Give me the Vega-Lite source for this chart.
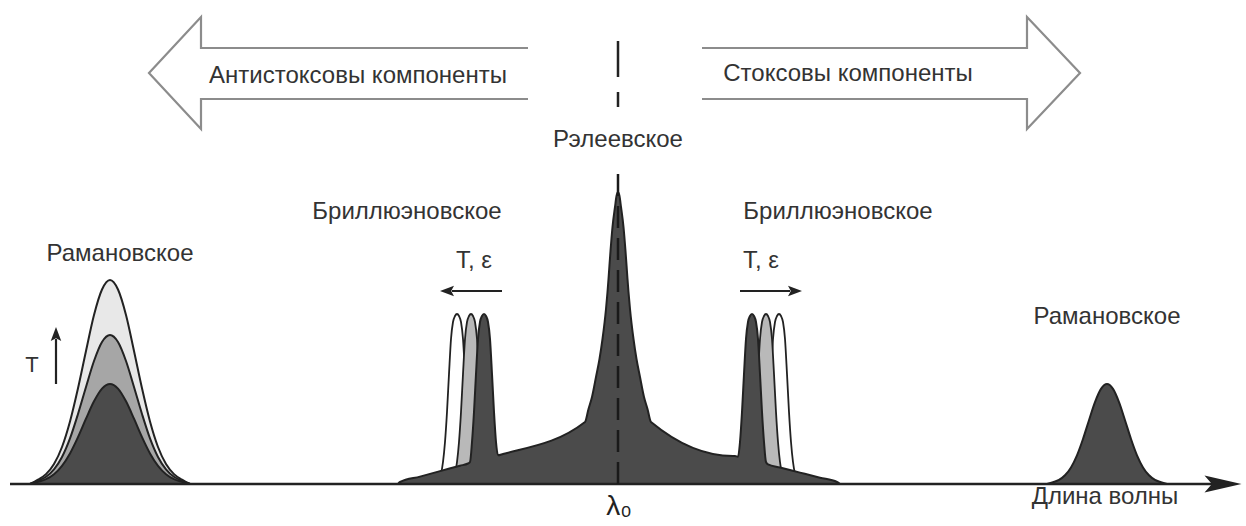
{
  "$schema": "https://vega.github.io/schema/vega-lite/v6.json",
  "width": 1246,
  "height": 526,
  "autosize": {"type": "fit", "contains": "padding"},
  "padding": 0,
  "background": "#ffffff",
  "config": {"view": {"stroke": null}},
  "datasets": {
    "arrows": [
      {"id": "L", "o": 1, "x": 528, "v": 436}, {"id": "L", "o": 2, "x": 201, "v": 436}, {"id": "L", "o": 3, "x": 201, "v": 467}, {"id": "L", "o": 4, "x": 149, "v": 411}, {"id": "L", "o": 5, "x": 201, "v": 355}, {"id": "L", "o": 6, "x": 201, "v": 385}, {"id": "L", "o": 7, "x": 528, "v": 385},
      {"id": "R", "o": 1, "x": 702, "v": 436}, {"id": "R", "o": 2, "x": 1027, "v": 436}, {"id": "R", "o": 3, "x": 1027, "v": 467}, {"id": "R", "o": 4, "x": 1080, "v": 411}, {"id": "R", "o": 5, "x": 1027, "v": 355}, {"id": "R", "o": 6, "x": 1027, "v": 385}, {"id": "R", "o": 7, "x": 702, "v": 385}
    ],
    "ramanOuter": [
      {"x": 30, "v": 0}, {"x": 38, "v": 4.4}, {"x": 46, "v": 9.9}, {"x": 54, "v": 20}, {"x": 62, "v": 37}, {"x": 70, "v": 62.5}, {"x": 78, "v": 95.7}, {"x": 86, "v": 133}, {"x": 94, "v": 169}, {"x": 102, "v": 194.5}, {"x": 110, "v": 204}, {"x": 118, "v": 194.5}, {"x": 126, "v": 169}, {"x": 134, "v": 133}, {"x": 142, "v": 95.7}, {"x": 150, "v": 62.5}, {"x": 158, "v": 37}, {"x": 166, "v": 20}, {"x": 174, "v": 9.9}, {"x": 182, "v": 4.4}, {"x": 190, "v": 0}
    ],
    "ramanMiddle": [
      {"x": 30, "v": 0}, {"x": 38, "v": 3.2}, {"x": 46, "v": 7.2}, {"x": 54, "v": 14.6}, {"x": 62, "v": 27}, {"x": 70, "v": 45.6}, {"x": 78, "v": 70}, {"x": 86, "v": 97}, {"x": 94, "v": 123}, {"x": 102, "v": 142}, {"x": 110, "v": 149}, {"x": 118, "v": 142}, {"x": 126, "v": 123}, {"x": 134, "v": 97}, {"x": 142, "v": 70}, {"x": 150, "v": 45.6}, {"x": 158, "v": 27}, {"x": 166, "v": 14.6}, {"x": 174, "v": 7.2}, {"x": 182, "v": 3.2}, {"x": 190, "v": 0}
    ],
    "ramanInner": [
      {"x": 30, "v": 0}, {"x": 38, "v": 2.2}, {"x": 46, "v": 4.8}, {"x": 54, "v": 9.8}, {"x": 62, "v": 18.2}, {"x": 70, "v": 30.6}, {"x": 78, "v": 46.9}, {"x": 86, "v": 65.3}, {"x": 94, "v": 82.7}, {"x": 102, "v": 95.4}, {"x": 110, "v": 100}, {"x": 118, "v": 95.4}, {"x": 126, "v": 82.7}, {"x": 134, "v": 65.3}, {"x": 142, "v": 46.9}, {"x": 150, "v": 30.6}, {"x": 158, "v": 18.2}, {"x": 166, "v": 9.8}, {"x": 174, "v": 4.8}, {"x": 182, "v": 2.2}, {"x": 190, "v": 0}
    ],
    "ramanRight": [
      {"x": 1047, "v": 0}, {"x": 1053, "v": 1.8}, {"x": 1059, "v": 4.1}, {"x": 1065, "v": 8.7}, {"x": 1071, "v": 16.6}, {"x": 1077, "v": 28.7}, {"x": 1083, "v": 45}, {"x": 1089, "v": 63.8}, {"x": 1095, "v": 81.9}, {"x": 1101, "v": 95.1}, {"x": 1107, "v": 100}, {"x": 1113, "v": 95.1}, {"x": 1119, "v": 81.9}, {"x": 1125, "v": 63.8}, {"x": 1131, "v": 45}, {"x": 1137, "v": 28.7}, {"x": 1143, "v": 16.6}, {"x": 1149, "v": 8.7}, {"x": 1155, "v": 4.1}, {"x": 1161, "v": 1.8}, {"x": 1167, "v": 0}
    ],
    "brilWhite": [
      {"g": "a", "x": 437, "v": 0}, {"g": "a", "x": 439, "v": 3}, {"g": "a", "x": 441, "v": 10}, {"g": "a", "x": 443, "v": 22}, {"g": "a", "x": 445, "v": 42}, {"g": "a", "x": 447, "v": 72}, {"g": "a", "x": 449, "v": 110}, {"g": "a", "x": 451, "v": 145}, {"g": "a", "x": 453, "v": 162}, {"g": "a", "x": 455, "v": 168}, {"g": "a", "x": 457, "v": 170}, {"g": "a", "x": 459, "v": 168}, {"g": "a", "x": 461, "v": 162}, {"g": "a", "x": 463, "v": 145}, {"g": "a", "x": 465, "v": 110}, {"g": "a", "x": 467, "v": 72}, {"g": "a", "x": 469, "v": 42}, {"g": "a", "x": 471, "v": 22}, {"g": "a", "x": 473, "v": 10}, {"g": "a", "x": 475, "v": 3}, {"g": "a", "x": 477, "v": 0},
      {"g": "b", "x": 759, "v": 0}, {"g": "b", "x": 761, "v": 3}, {"g": "b", "x": 763, "v": 10}, {"g": "b", "x": 765, "v": 22}, {"g": "b", "x": 767, "v": 42}, {"g": "b", "x": 769, "v": 72}, {"g": "b", "x": 771, "v": 110}, {"g": "b", "x": 773, "v": 145}, {"g": "b", "x": 775, "v": 162}, {"g": "b", "x": 777, "v": 168}, {"g": "b", "x": 779, "v": 170}, {"g": "b", "x": 781, "v": 168}, {"g": "b", "x": 783, "v": 162}, {"g": "b", "x": 785, "v": 145}, {"g": "b", "x": 787, "v": 110}, {"g": "b", "x": 789, "v": 72}, {"g": "b", "x": 791, "v": 42}, {"g": "b", "x": 793, "v": 22}, {"g": "b", "x": 795, "v": 10}, {"g": "b", "x": 797, "v": 3}, {"g": "b", "x": 799, "v": 0}
    ],
    "brilGray": [
      {"g": "a", "x": 451, "v": 0}, {"g": "a", "x": 453, "v": 3}, {"g": "a", "x": 455, "v": 10}, {"g": "a", "x": 457, "v": 22}, {"g": "a", "x": 459, "v": 42}, {"g": "a", "x": 461, "v": 72}, {"g": "a", "x": 463, "v": 110}, {"g": "a", "x": 465, "v": 145}, {"g": "a", "x": 467, "v": 162}, {"g": "a", "x": 469, "v": 168}, {"g": "a", "x": 471, "v": 170}, {"g": "a", "x": 473, "v": 168}, {"g": "a", "x": 475, "v": 162}, {"g": "a", "x": 477, "v": 145}, {"g": "a", "x": 479, "v": 110}, {"g": "a", "x": 481, "v": 72}, {"g": "a", "x": 483, "v": 42}, {"g": "a", "x": 485, "v": 22}, {"g": "a", "x": 487, "v": 10}, {"g": "a", "x": 489, "v": 3}, {"g": "a", "x": 491, "v": 0},
      {"g": "b", "x": 746, "v": 0}, {"g": "b", "x": 748, "v": 3}, {"g": "b", "x": 750, "v": 10}, {"g": "b", "x": 752, "v": 22}, {"g": "b", "x": 754, "v": 42}, {"g": "b", "x": 756, "v": 72}, {"g": "b", "x": 758, "v": 110}, {"g": "b", "x": 760, "v": 145}, {"g": "b", "x": 762, "v": 162}, {"g": "b", "x": 764, "v": 168}, {"g": "b", "x": 766, "v": 170}, {"g": "b", "x": 768, "v": 168}, {"g": "b", "x": 770, "v": 162}, {"g": "b", "x": 772, "v": 145}, {"g": "b", "x": 774, "v": 110}, {"g": "b", "x": 776, "v": 72}, {"g": "b", "x": 778, "v": 42}, {"g": "b", "x": 780, "v": 22}, {"g": "b", "x": 782, "v": 10}, {"g": "b", "x": 784, "v": 3}, {"g": "b", "x": 786, "v": 0}
    ],
    "main": [
      {"x": 398, "v": 0}, {"x": 400, "v": 2}, {"x": 420, "v": 7.4}, {"x": 440, "v": 12.9}, {"x": 460, "v": 18.3}, {"x": 468, "v": 20.5}, {"x": 470, "v": 22}, {"x": 472, "v": 42}, {"x": 474, "v": 72}, {"x": 476, "v": 110}, {"x": 478, "v": 145}, {"x": 480, "v": 162}, {"x": 482, "v": 168}, {"x": 484, "v": 170}, {"x": 486, "v": 168}, {"x": 488, "v": 162}, {"x": 490, "v": 145}, {"x": 492, "v": 110}, {"x": 494, "v": 72}, {"x": 496, "v": 42}, {"x": 498, "v": 28.7}, {"x": 503, "v": 30}, {"x": 585, "v": 62},
      {"x": 588.5, "v": 75}, {"x": 592, "v": 87}, {"x": 596, "v": 107}, {"x": 599.5, "v": 125}, {"x": 602.5, "v": 145}, {"x": 606, "v": 175}, {"x": 607.5, "v": 192}, {"x": 608.5, "v": 205}, {"x": 610.5, "v": 233}, {"x": 612.5, "v": 257}, {"x": 615, "v": 277}, {"x": 616.5, "v": 288}, {"x": 618, "v": 292}, {"x": 619.5, "v": 288}, {"x": 621, "v": 277}, {"x": 623.5, "v": 257}, {"x": 625.5, "v": 233}, {"x": 627.5, "v": 205}, {"x": 628.5, "v": 192}, {"x": 630, "v": 175}, {"x": 633.5, "v": 145}, {"x": 636.5, "v": 125}, {"x": 640, "v": 107}, {"x": 644, "v": 87}, {"x": 647.5, "v": 75}, {"x": 651, "v": 62},
      {"x": 733, "v": 28}, {"x": 735, "v": 28}, {"x": 738, "v": 27.2}, {"x": 740, "v": 42}, {"x": 742, "v": 72}, {"x": 744, "v": 110}, {"x": 746, "v": 145}, {"x": 748, "v": 162}, {"x": 750, "v": 168}, {"x": 752, "v": 170}, {"x": 754, "v": 168}, {"x": 756, "v": 162}, {"x": 758, "v": 145}, {"x": 760, "v": 110}, {"x": 762, "v": 72}, {"x": 764, "v": 42}, {"x": 766, "v": 22}, {"x": 768, "v": 19.6}, {"x": 780, "v": 16.5}, {"x": 800, "v": 11.4}, {"x": 820, "v": 6.3}, {"x": 837, "v": 2}, {"x": 840, "v": 0}
    ],
    "labels": [
      {"x": 358, "v": 408, "t": "Антистоксовы компоненты"},
      {"x": 848, "v": 410, "t": "Стоксовы компоненты"},
      {"x": 618, "v": 344, "t": "Рэлеевское"},
      {"x": 407, "v": 272, "t": "Бриллюэновское"},
      {"x": 838, "v": 272, "t": "Бриллюэновское"},
      {"x": 120, "v": 230, "t": "Рамановское"},
      {"x": 1107, "v": 167, "t": "Рамановское"},
      {"x": 474, "v": 223, "t": "T, ε"},
      {"x": 761, "v": 223, "t": "T, ε"},
      {"x": 1105, "v": -13, "t": "Длина волны"}
    ]
  },
  "layer": [
    {
      "data": {"name": "arrows"},
      "mark": {"type": "line", "stroke": "#8c8c8c", "strokeWidth": 2.2, "strokeJoin": "miter"},
      "encoding": {
        "x": {"field": "x", "type": "quantitative", "scale": {"domain": [0, 1246], "nice": false, "zero": false}, "axis": null},
        "y": {"field": "v", "type": "quantitative", "scale": {"domain": [-42, 484], "nice": false, "zero": false}, "axis": null},
        "order": {"field": "o"},
        "detail": {"field": "id"}
      }
    },
    {
      "data": {"name": "ramanOuter"},
      "mark": {"type": "area", "interpolate": "monotone", "fill": "#e8e8e8", "stroke": "#222222", "strokeWidth": 2},
      "encoding": {
        "x": {"field": "x", "type": "quantitative"},
        "y": {"field": "v", "type": "quantitative", "stack": null},
        "y2": {"datum": 0}
      }
    },
    {
      "data": {"name": "ramanMiddle"},
      "mark": {"type": "area", "interpolate": "monotone", "fill": "#a6a6a6", "stroke": "#222222", "strokeWidth": 2},
      "encoding": {
        "x": {"field": "x", "type": "quantitative"},
        "y": {"field": "v", "type": "quantitative", "stack": null},
        "y2": {"datum": 0}
      }
    },
    {
      "data": {"name": "ramanInner"},
      "mark": {"type": "area", "interpolate": "monotone", "fill": "#4b4b4b", "stroke": "#222222", "strokeWidth": 2},
      "encoding": {
        "x": {"field": "x", "type": "quantitative"},
        "y": {"field": "v", "type": "quantitative", "stack": null},
        "y2": {"datum": 0}
      }
    },
    {
      "data": {"name": "ramanRight"},
      "mark": {"type": "area", "interpolate": "monotone", "fill": "#4b4b4b", "stroke": "#222222", "strokeWidth": 2},
      "encoding": {
        "x": {"field": "x", "type": "quantitative"},
        "y": {"field": "v", "type": "quantitative", "stack": null},
        "y2": {"datum": 0}
      }
    },
    {
      "data": {"name": "brilWhite"},
      "mark": {"type": "area", "interpolate": "monotone", "fill": "#ffffff", "stroke": "#222222", "strokeWidth": 1.8},
      "encoding": {
        "x": {"field": "x", "type": "quantitative"},
        "y": {"field": "v", "type": "quantitative", "stack": null},
        "y2": {"datum": 0},
        "detail": {"field": "g"}
      }
    },
    {
      "data": {"name": "brilGray"},
      "mark": {"type": "area", "interpolate": "monotone", "fill": "#b9b9b9", "stroke": "#222222", "strokeWidth": 1.8},
      "encoding": {
        "x": {"field": "x", "type": "quantitative"},
        "y": {"field": "v", "type": "quantitative", "stack": null},
        "y2": {"datum": 0},
        "detail": {"field": "g"}
      }
    },
    {
      "data": {"name": "main"},
      "mark": {"type": "area", "interpolate": "monotone", "fill": "#4b4b4b", "stroke": "#222222", "strokeWidth": 2},
      "encoding": {
        "x": {"field": "x", "type": "quantitative"},
        "y": {"field": "v", "type": "quantitative", "stack": null},
        "y2": {"datum": 0}
      }
    },
    {
      "data": {"values": [{"x": 10, "x2": 1215, "v": 0}]},
      "mark": {"type": "rule", "stroke": "#222222", "strokeWidth": 2.5},
      "encoding": {
        "x": {"field": "x", "type": "quantitative"},
        "x2": {"field": "x2"},
        "y": {"field": "v", "type": "quantitative"}
      }
    },
    {
      "data": {"values": [{"x": 1223, "v": 0}]},
      "mark": {"type": "point", "shape": "M1,0 L-1,-0.46 L-0.6,0 L-1,0.46 Z", "size": 1369, "filled": true, "fill": "#222222", "strokeWidth": 0, "opacity": 1},
      "encoding": {
        "x": {"field": "x", "type": "quantitative"},
        "y": {"field": "v", "type": "quantitative"}
      }
    },
    {
      "data": {"values": [{"x": 618, "v": 443, "v2": 377}]},
      "mark": {"type": "rule", "stroke": "#222222", "strokeWidth": 2.5, "strokeDash": [36, 15]},
      "encoding": {
        "x": {"field": "x", "type": "quantitative"},
        "y": {"field": "v", "type": "quantitative"},
        "y2": {"field": "v2"}
      }
    },
    {
      "data": {"values": [{"x": 618, "v": 310, "v2": 0}]},
      "mark": {"type": "rule", "stroke": "#1a1a1a", "strokeWidth": 2.5, "strokeDash": [22, 10]},
      "encoding": {
        "x": {"field": "x", "type": "quantitative"},
        "y": {"field": "v", "type": "quantitative"},
        "y2": {"field": "v2"}
      }
    },
    {
      "data": {"values": [{"x": 452, "x2": 502, "v": 193}, {"x": 740, "x2": 790, "v": 193}]},
      "mark": {"type": "rule", "stroke": "#222222", "strokeWidth": 2.2},
      "encoding": {
        "x": {"field": "x", "type": "quantitative"},
        "x2": {"field": "x2"},
        "y": {"field": "v", "type": "quantitative"}
      }
    },
    {
      "data": {"values": [{"x": 56, "v": 100, "v2": 145}]},
      "mark": {"type": "rule", "stroke": "#222222", "strokeWidth": 2.2},
      "encoding": {
        "x": {"field": "x", "type": "quantitative"},
        "y": {"field": "v", "type": "quantitative"},
        "y2": {"field": "v2"}
      }
    },
    {
      "data": {"values": [{"x": 447, "v": 193}]},
      "mark": {"type": "point", "shape": "M-1,0 L1,-0.75 L0.6,0 L1,0.75 Z", "size": 196, "filled": true, "fill": "#222222", "strokeWidth": 0, "opacity": 1},
      "encoding": {
        "x": {"field": "x", "type": "quantitative"},
        "y": {"field": "v", "type": "quantitative"}
      }
    },
    {
      "data": {"values": [{"x": 795, "v": 193}]},
      "mark": {"type": "point", "shape": "M1,0 L-1,-0.75 L-0.6,0 L-1,0.75 Z", "size": 196, "filled": true, "fill": "#222222", "strokeWidth": 0, "opacity": 1},
      "encoding": {
        "x": {"field": "x", "type": "quantitative"},
        "y": {"field": "v", "type": "quantitative"}
      }
    },
    {
      "data": {"values": [{"x": 56, "v": 150}]},
      "mark": {"type": "point", "shape": "M0,-1 L-0.75,1 L0,0.6 L0.75,1 Z", "size": 196, "filled": true, "fill": "#222222", "strokeWidth": 0, "opacity": 1},
      "encoding": {
        "x": {"field": "x", "type": "quantitative"},
        "y": {"field": "v", "type": "quantitative"}
      }
    },
    {
      "data": {"name": "labels"},
      "mark": {"type": "text", "font": "Liberation Sans", "fontSize": 24, "fill": "#333333", "align": "center", "baseline": "middle"},
      "encoding": {
        "x": {"field": "x", "type": "quantitative"},
        "y": {"field": "v", "type": "quantitative"},
        "text": {"field": "t"}
      }
    },
    {
      "data": {"values": [{"x": 32, "v": 119, "t": "T"}]},
      "mark": {"type": "text", "font": "Liberation Sans", "fontSize": 22, "fill": "#333333", "align": "center", "baseline": "middle"},
      "encoding": {
        "x": {"field": "x", "type": "quantitative"},
        "y": {"field": "v", "type": "quantitative"},
        "text": {"field": "t"}
      }
    },
    {
      "data": {"values": [{"x": 619, "v": -23, "t": "λ₀"}]},
      "mark": {"type": "text", "font": "Liberation Sans", "fontSize": 28, "fill": "#222222", "align": "center", "baseline": "middle"},
      "encoding": {
        "x": {"field": "x", "type": "quantitative"},
        "y": {"field": "v", "type": "quantitative"},
        "text": {"field": "t"}
      }
    }
  ]
}
